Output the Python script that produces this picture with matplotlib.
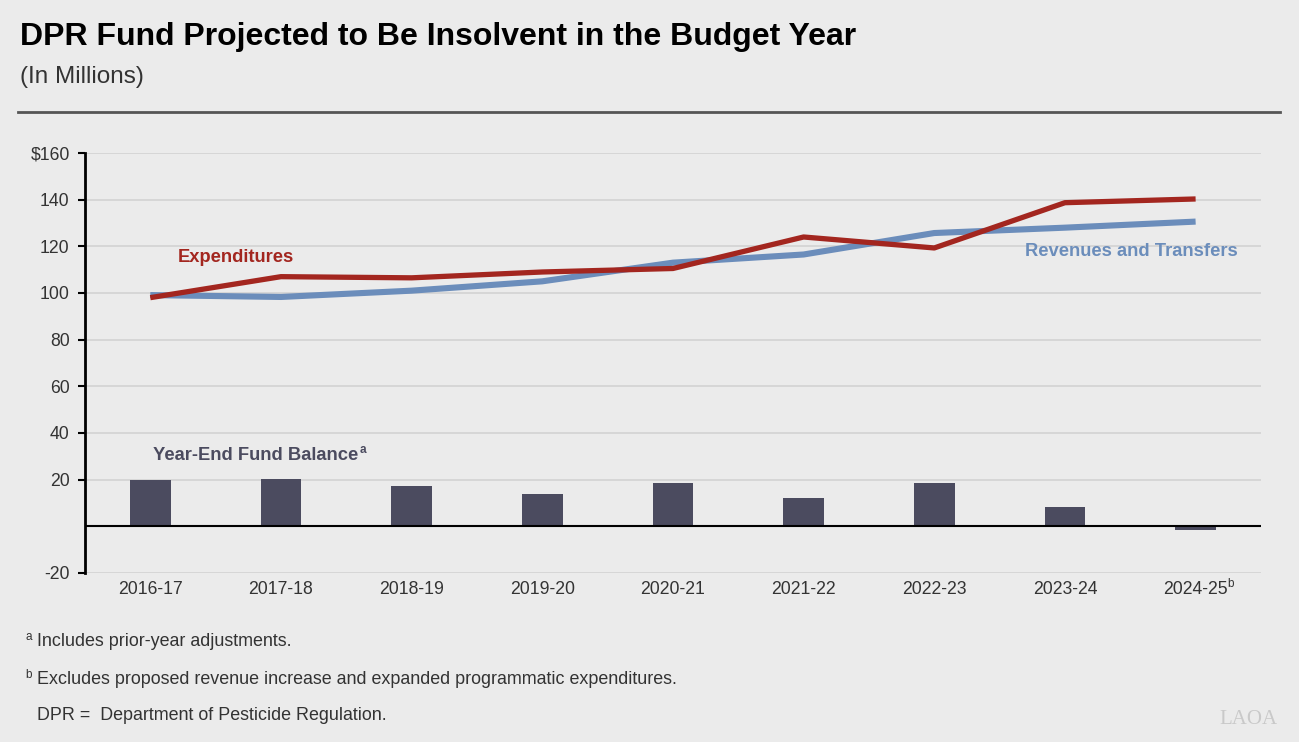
import numpy as np
import matplotlib
matplotlib.use('Agg')
from matplotlib import pyplot as plt

# data (in millions)
years = ['2016-17', '2017-18', '2018-19', '2019-20', '2020-21',
         '2021-22', '2022-23', '2023-24', '2024-25']
revenues = [99.1, 98.3, 101.0, 105.0, 113.0, 116.5, 125.7, 128.0, 130.6]
expenditures = [98.0, 107.0, 106.5, 109.0, 110.5, 124.0, 119.3, 138.7, 140.3]
fund_balance = [19.8, 20.3, 17.3, 13.8, 18.6, 12.1, 18.7, 8.4, -1.5]
yticks = [-20, 20, 40, 60, 80, 100, 120, 140, 160]
ytick_labels = ['-20', '20', '40', '60', '80', '100', '120', '140', '$160']

plt.rcParams['font.family'] = ['Liberation Sans', 'DejaVu Sans']

BG = '#ebebeb'
RED = '#a3261f'
BLUE = '#6b8dbb'
BAR = '#4b4b5f'
TXT = '#333333'


def main():
    fig = plt.figure(figsize=(12.99, 7.42), dpi=100, facecolor=BG)
    ax = fig.add_axes([0.0654, 0.2278, 0.9053, 0.566])
    ax.set_facecolor(BG)

    x = np.arange(len(years))
    ax.bar(x, fund_balance, width=0.31, color=BAR, zorder=3)
    ax.plot(x, revenues, color=BLUE, lw=4.4, zorder=4, solid_capstyle='butt')
    ax.plot(x, expenditures, color=RED, lw=3.8, zorder=5, solid_capstyle='butt')

    ax.set_xlim(-0.5, len(years) - 0.5)
    ax.set_ylim(-20, 160)
    for y in yticks:
        ax.axhline(y, color='#d2d2d2', lw=1.2, zorder=1)
    ax.axhline(0, color='black', lw=1.5, zorder=6)

    ax.set_yticks(yticks)
    ax.set_yticklabels(ytick_labels, fontsize=12.7, color=TXT)
    ax.set_xticks(x)
    ax.set_xticklabels(years, fontsize=12.7, color=TXT)
    ax.tick_params(axis='x', length=0, pad=6)
    ax.tick_params(axis='y', length=5, width=1.5, color='black', pad=6)
    for s in ['top', 'right', 'bottom']:
        ax.spines[s].set_visible(False)
    ax.spines['left'].set_linewidth(2)
    ax.spines['left'].set_zorder(7)
    # footnote mark on the last year label
    ax.annotate('b', xy=(x[-1], -20), xytext=(22.5, -3.5), textcoords='offset points',
                fontsize=8.5, color=TXT, ha='left', va='top')

    # series labels
    ax.text(0.21, 115, 'Expenditures', color=RED, fontsize=13.2,
            fontweight='bold', ha='left', va='center')
    ax.text(8.32, 117.8, 'Revenues and Transfers', color=BLUE, fontsize=13.2,
            fontweight='bold', ha='right', va='center')
    ax.text(0.02, 30.5, 'Year-End Fund Balance', color=BAR,
            fontsize=13.2, fontweight='bold', ha='left', va='center')
    ax.annotate('a', xy=(0.02, 30.5), xytext=(149, 3.5), textcoords='offset points',
                fontsize=8.5, fontweight='bold', color=BAR, ha='left', va='center')

    # title block
    fig.text(20 / 1299, 1 - 37 / 742, 'DPR Fund Projected to Be Insolvent in the Budget Year',
             fontsize=23, fontweight='bold', color='black', va='center', ha='left')
    fig.text(20 / 1299, 1 - 77 / 742, '(In Millions)', fontsize=17.5, color=TXT,
             va='center', ha='left')
    fig.add_artist(plt.Line2D([18 / 1299, 1280 / 1299], [1 - 112 / 742, 1 - 112 / 742],
                              color='#555555', lw=2))

    # footnotes
    notes = [('a', 'Includes prior-year adjustments.', 642),
             ('b', 'Excludes proposed revenue increase and expanded programmatic expenditures.', 680),
             ('', 'DPR =  Department of Pesticide Regulation.', 715)]
    for sup, note, ypix in notes:
        if sup:
            fig.text(25 / 1299, 1 - (ypix - 5) / 742, sup, fontsize=8.5, color=TXT,
                     va='center', ha='left')
        fig.text(37 / 1299, 1 - ypix / 742, note, fontsize=12.9, color=TXT,
                 va='center', ha='left')

    fig.text(1278 / 1299, 1 - 720 / 742, 'LAOA', fontsize=15, color='#c9c9c9',
             family='Liberation Serif', va='center', ha='right')

    fig.savefig('out.png', dpi=100, facecolor=BG)
    plt.close(fig)


if __name__ == '__main__':
    main()
